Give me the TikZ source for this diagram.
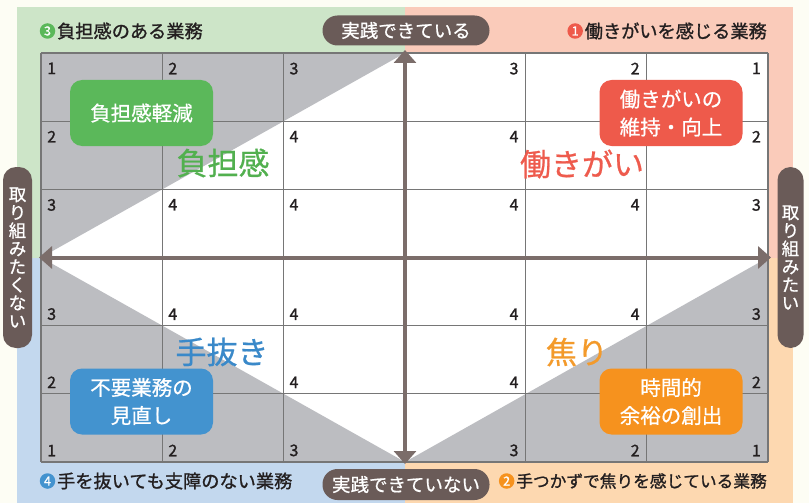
\documentclass[tikz,border=0pt]{standalone}
\usepackage{fontspec}
\setmainfont{Noto Sans CJK JP}
\newfontfamily\medfont{Noto Sans CJK JP}[FakeBold=1.2]
\newfontfamily\semifont{Noto Sans CJK JP}[FakeBold=0.7]
\usetikzlibrary{arrows.meta}
\definecolor{cream}{HTML}{FDFDF4}
\definecolor{bggreen}{HTML}{CDE5C8}
\definecolor{bgpink}{HTML}{FACBBA}
\definecolor{bgblue}{HTML}{C3D8EE}
\definecolor{bgpeach}{HTML}{FDD8B0}
\definecolor{cellgray}{HTML}{BCBDC1}
\definecolor{gridc}{HTML}{767676}
\definecolor{pillc}{HTML}{6A5B58}
\definecolor{axisc}{HTML}{7B6D6A}
\definecolor{cgreen}{HTML}{5BB85A}
\definecolor{cred}{HTML}{EE5A4B}
\definecolor{cblue}{HTML}{4393CF}
\definecolor{corange}{HTML}{F6921E}
\definecolor{tgreen}{HTML}{52B04F}
\definecolor{tred}{HTML}{EE5B4D}
\definecolor{tblue}{HTML}{3A89C9}
\definecolor{torange}{HTML}{F39A2B}
\definecolor{txt}{HTML}{231F20}
\begin{document}
\begin{tikzpicture}[x=1pt,y=-1pt,
  pill/.style={draw=none,fill=pillc,text=white,rounded corners=15pt,inner sep=0pt,
    font=\semifont\fontsize{18.5}{18.5}\selectfont},
  vpill/.style={draw=none,fill=pillc,text=white,rounded corners=13pt,inner sep=0pt,
    align=center,font=\semifont\fontsize{17.5}{18.1}\selectfont},
  actbox/.style={rounded corners=12pt,text=white,inner sep=0pt,minimum width=143pt,
    minimum height=66pt,align=center,font=\semifont\fontsize{20.5}{28}\selectfont},
  biglabel/.style={inner sep=0pt,font=\semifont\fontsize{31}{31}\selectfont},
  header/.style={inner sep=0pt,text=txt,font=\medfont\fontsize{18.2}{18.2}\selectfont},
  numcirc/.style={circle,inner sep=0pt,minimum size=15.5pt,text=white,
    font=\medfont\fontsize{12.5}{12.5}\selectfont},
  num/.style={inner sep=0pt,text=txt,font=\medfont\fontsize{16}{16}\selectfont},
  gridl/.style={draw=gridc,line width=1.3pt},
  axis/.style={draw=axisc,line width=4pt,
    {Triangle[width=22pt,length=13pt]}-{Triangle[width=22pt,length=13pt]}}
]
\useasboundingbox (0,0) rectangle (809,503);
\fill[cream] (0,0) rectangle (809,503);
% quadrant backgrounds
\fill[bggreen] (17,7) rectangle (405,257.5);
\fill[bgpink] (405,7) rectangle (793,257.5);
\fill[bgblue] (17,257.5) rectangle (405,503);
\fill[bgpeach] (405,257.5) rectangle (793,503);
% grid cells
\fill[white] (41,53) rectangle (768,462);
\fill[cellgray] (41,53) -- (405,53) -- (41,257.5) -- cycle;
\fill[cellgray] (41,257.5) -- (41,462) -- (405,462) -- cycle;
\fill[cellgray] (405,462) -- (768,462) -- (768,257.5) -- cycle;
\foreach \i in {0,...,6} {
  \draw[gridl] ({41+\i*121.1667},53) -- ({41+\i*121.1667},462);
  \draw[gridl] (41,{53+\i*68.1667}) -- (768,{53+\i*68.1667});
}
% numbers: top-left quadrant
\foreach \c/\r/\t [count=\k] in {0/0/1,1/0/2,2/0/3,0/1/2,2/1/4,0/2/3,1/2/4,2/2/4}
  \node[num,anchor=north west] (ntl\k) at ({41+\c*121.1667+6},{53+\r*68.1667+9.5}) {\t};
% top-right quadrant
\foreach \c/\r/\t [count=\k] in {4/0/3,5/0/2,6/0/1,4/1/4,6/1/2,4/2/4,5/2/4,6/2/3}
  \node[num,anchor=north east] (ntr\k) at ({41+\c*121.1667-7},{53+\r*68.1667+9.5}) {\t};
% bottom-left quadrant
\foreach \c/\r/\t [count=\k] in {0/4/3,1/4/4,2/4/4,0/5/2,2/5/4,0/6/1,1/6/2,2/6/3}
  \node[num,anchor=south west] (nbl\k) at ({41+\c*121.1667+6},{53+\r*68.1667-5.5}) {\t};
% bottom-right quadrant
\foreach \c/\r/\t [count=\k] in {4/4/4,5/4/4,6/4/3,4/5/4,6/5/2,4/6/3,5/6/2,6/6/1}
  \node[num,anchor=south east] (nbr\k) at ({41+\c*121.1667-7},{53+\r*68.1667-5.5}) {\t};
% axes
\coordinate (atop) at (405,50);
\coordinate (abot) at (405,464);
\coordinate (aleft) at (39,257.5);
\coordinate (aright) at (771,257.5);
\draw[axis] (abot) -- (atop);
\draw[axis] (aleft) -- (aright);
% pills
\node[pill,minimum width=167pt,minimum height=30pt] (ptop) at (406,30.5) {実践できている};
\node[pill,minimum width=167pt,minimum height=31pt] (pbot) at (406,484.5) {実践できていない};
\node[vpill,minimum width=29pt,minimum height=181pt] (pleft) at (17.5,257.5)
  {取\\り\\組\\み\\た\\く\\な\\い};
\node[vpill,minimum width=26pt,minimum height=181pt] (pright) at (790.5,257.5)
  {取\\り\\組\\み\\た\\い};
% action boxes
\node[actbox,fill=cgreen] (bgreen) at (141.5,113) {負担感軽減};
\node[actbox,fill=cred] (bred) at (671,113) {働きがいの\\維持・向上};
\node[actbox,fill=cblue] (bblue) at (141.5,401.5) {不要業務の\\見直し};
\node[actbox,fill=corange] (borange) at (671,401.5) {時間的\\余裕の創出};
% big labels
\node[biglabel,text=tgreen] (lgreen) at (223,163) {負担感};
\node[biglabel,text=tred] (lred) at (582,164) {働きがい};
\node[biglabel,text=tblue] (lblue) at (222,352) {手抜き};
\node[biglabel,text=torange] (lorange) at (577,352) {焦り};
% headers
\node[numcirc,fill=cgreen] (c3) at (47.5,31) {3};
\node[header,anchor=west] (h3) at ([xshift=1.5pt]c3.east) {負担感のある業務};
\node[header,anchor=east] (h1) at (767,31) {働きがいを感じる業務};
\node[numcirc,fill=cred,anchor=east] (c1) at ([xshift=-1.5pt]h1.west) {1};
\node[numcirc,fill=cblue] (c4) at (47.5,481) {4};
\node[header,anchor=west] (h4) at ([xshift=1.5pt]c4.east) {手を抜いても支障のない業務};
\node[header,anchor=east,font=\medfont\fontsize{16.7}{16.7}\selectfont] (h2) at (767,481) {手つかずで焦りを感じている業務};
\node[numcirc,fill=corange,anchor=east] (c2) at ([xshift=-1.5pt]h2.west) {2};
\end{tikzpicture}
\end{document}
